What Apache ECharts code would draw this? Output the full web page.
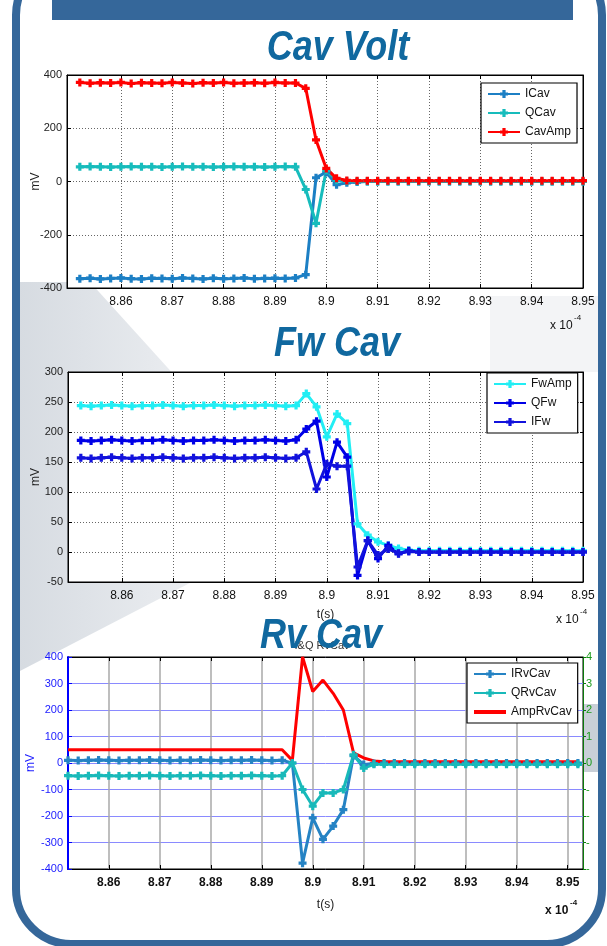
<!DOCTYPE html>
<html>
<head>
<meta charset="utf-8">
<script src="https://cdn.jsdelivr.net/npm/echarts@6/dist/echarts.min.js"></script>
<style>
html,body{margin:0;padding:0;background:#fff}
#main{width:607px;height:946px}
</style>
</head>
<body>
<div id="main"></div>
<script>
// time axis, units of 1e-4 s
var t = [8.852,8.854,8.856,8.858,8.860,8.862,8.864,8.866,8.868,8.870,
         8.872,8.874,8.876,8.878,8.880,8.882,8.884,8.886,8.888,8.890,
         8.892,8.894,8.896,8.898,8.900,8.902,8.904,8.906,8.908,8.910,
         8.912,8.914,8.916,8.918,8.920,8.922,8.924,8.926,8.928,8.930,
         8.932,8.934,8.936,8.938,8.940,8.942,8.944,8.946,8.948,8.950,8.952];
var xTicks = [8.86,8.87,8.88,8.89,8.9,8.91,8.92,8.93,8.94,8.95];

// Cav Volt (mV)
var iCav = [-365,-363,-366,-364,-362,-365,-366,-363,-364,-365,-362,-364,-366,-363,-365,-364,-362,-365,-364,-363,-364,-362,
            -350,14,35,-12,-5,-2,
            0,0,0,0,0,0,0,0,0,0,0,0,0,0,0,0,0,0,0,0,0,0,0];
var qCav = [55,56,55,54,55,56,55,55,54,55,56,55,55,54,55,56,55,55,54,55,56,55,
            -30,-157,42,5,1,
            0,0,0,0,0,0,0,0,0,0,0,0,0,0,0,0,0,0,0,0,0,0,0,0];
var cavAmp = [372,369,371,370,372,368,371,370,369,372,370,368,371,370,372,369,370,371,369,372,370,370,
              350,156,49,12,4,
              3,3,3,3,3,3,3,3,3,3,3,3,3,3,3,3,3,3,3,3,3,3,3,3];

// Fw Cav (mV)
var fwAmp = [244,243,244,245,244,243,244,244,245,244,243,244,244,245,244,243,244,244,245,244,243,244,
             264,242,192,230,214,47,28,17,11,6,3,
             2,2,2,2,2,2,2,2,2,2,2,2,2,2,2,2,2,2];
var qFw = [186,185,186,187,186,185,186,186,187,186,185,186,186,187,186,185,186,186,187,186,185,187,
           205,218,125,183,158,-39,19,-11,11,-3,2,
           0,0,0,0,0,0,0,0,0,0,0,0,0,0,0,0,0,0];
var iFw = [157,156,157,158,157,156,157,157,158,157,156,157,157,158,157,156,157,157,158,157,156,157,
           167,105,147,143,143,-25,19,-5,5,-2,1,
           0,0,0,0,0,0,0,0,0,0,0,0,0,0,0,0,0,0];

// Rv Cav (mV)
var iRv = [10,9,10,11,10,9,10,10,11,10,9,10,10,11,10,9,10,10,11,10,9,10,
           0,-378,-207,-288,-238,-176,28,-6,-2,
           0,0,0,0,0,0,0,0,0,0,0,0,0,0,0,0,0,0,0,0];
var qRv = [-48,-49,-48,-47,-48,-49,-48,-48,-47,-48,-49,-48,-48,-47,-48,-49,-48,-48,-47,-48,-49,-48,
           0,-100,-163,-113,-113,-100,31,-19,-5,
           -5,-5,-5,-5,-5,-5,-5,-5,-5,-5,-5,-5,-5,-5,-5,-5,-5,-5,-5,-5];
var ampRv = [50,50,50,50,50,50,50,50,50,50,50,50,50,50,50,50,50,50,50,50,50,50,
             10,400,270,313,263,200,38,19,8,
             5,5,5,5,5,5,5,5,5,5,5,5,5,5,5,5,5,5,5,5];

var FONT = '"Liberation Sans", Arial, sans-serif';
var PLUS = 'path://M3,0L7,0L7,3L10,3L10,7L7,7L7,10L3,10L3,7L0,7L0,3L3,3Z';
var BAR = 'path://M0,0L32,0L32,4L0,4Z';
var FRAME = '#35679a';
var TITLE = '#10689f';

function pts(v){
    return t.map(function(x,i){ return [x, v[i]]; });
}
function fmtX(v){ return String(parseFloat(v.toFixed(2))); }

function line(name, vals, color, xi, yi, marker){
    return {
        name: name, type: 'line', xAxisIndex: xi, yAxisIndex: yi,
        data: pts(vals),
        symbol: marker ? PLUS : 'none',
        symbolSize: 8,
        showSymbol: !!marker,
        itemStyle: {color: color},
        lineStyle: {color: color, width: 3},
        animation: false
    };
}

function bottomX(gi, min, max, bold, name, gap){
    return {
        type: 'value', gridIndex: gi, min: min, max: max, position: 'bottom',
        name: name || '', nameLocation: 'middle', nameGap: gap || 28, nameMoveOverlap: false,
        nameTextStyle: {color: '#222', fontSize: 12, fontFamily: FONT},
        axisLine: {show: true, onZero: false, lineStyle: {color: '#000', width: 1}},
        axisTick: {show: true, inside: true, length: 4, customValues: xTicks, lineStyle: {color: '#000'}},
        axisLabel: {customValues: xTicks, formatter: fmtX, color: '#111', fontSize: 12,
                    fontWeight: bold ? 'bold' : 'normal', fontFamily: FONT, margin: 8},
        splitLine: {show: true, lineStyle: bold ? {color: '#a8a8a8', width: 1.5, type: 'solid'}
                                                : {color: '#666', width: 1, type: [1, 2]}}
    };
}
function topX(gi, min, max){
    return {
        type: 'value', gridIndex: gi, min: min, max: max, position: 'top',
        axisLine: {show: true, onZero: false, lineStyle: {color: '#000', width: 1}},
        axisTick: {show: true, inside: true, length: 4, customValues: xTicks, lineStyle: {color: '#000'}},
        axisLabel: {show: false}, splitLine: {show: false}
    };
}
function leftY(gi, min, max, step, color, lblColor, split, gap){
    return {
        type: 'value', gridIndex: gi, min: min, max: max, interval: step, position: 'left',
        name: 'mV', nameLocation: 'middle', nameGap: gap, nameMoveOverlap: false,
        nameTextStyle: {color: lblColor, fontSize: 12, fontFamily: FONT},
        axisLine: {show: true, onZero: false, lineStyle: {color: color, width: color === '#000' ? 1 : 2}},
        axisTick: {show: true, inside: true, length: 4, lineStyle: {color: color}},
        axisLabel: {color: lblColor, fontSize: 11, fontFamily: FONT, margin: 5},
        splitLine: {show: true, lineStyle: split}
    };
}
function rightY(gi, min, max, step, color, labels){
    return {
        type: 'value', gridIndex: gi, min: min, max: max, interval: step, position: 'right',
        axisLine: {show: true, onZero: false, lineStyle: {color: color, width: 1}},
        axisTick: {show: true, inside: !labels, length: 3, lineStyle: {color: color}},
        axisLabel: labels ? {show: true, color: '#1a9a1a', fontSize: 11, fontFamily: FONT, margin: 3,
                             formatter: function(v){ return String(v).charAt(0); }}
                          : {show: false},
        splitLine: {show: false}
    };
}
function legendAt(left, top, names){
    return {
        data: names, orient: 'vertical', left: left, top: top,
        backgroundColor: '#fff', borderColor: '#000', borderWidth: 1.2,
        padding: [5, 6, 5, 6], itemGap: 7, itemWidth: 32, itemHeight: 10,
        textStyle: {color: '#111', fontSize: 12, fontFamily: FONT},
        selectedMode: false
    };
}
function title(x, y, text){
    return {type: 'text', x: x, y: y, scaleY: 1.18, z: 100,
            style: {text: text, fill: TITLE, font: 'italic bold 36px ' + FONT,
                    textAlign: 'center', textVerticalAlign: 'middle'}};
}
function scale10(x, y, bold){
    var w = bold ? 'bold ' : '';
    return [
        {type: 'text', x: x, y: y, z: 60,
         style: {text: 'x 10', fill: '#111', font: w + '12px ' + FONT, textVerticalAlign: 'middle'}},
        {type: 'text', x: x + (bold ? 25 : 24), y: y - 8, z: 60,
         style: {text: '-4', fill: '#111', font: w + '8px ' + FONT, textVerticalAlign: 'middle'}}
    ];
}

var chart = echarts.init(document.getElementById('main'), null, {renderer: 'canvas'});

var graphics = [
    // decorative background shading
    {type: 'polygon', z: -10, silent: true,
     shape: {points: [[18,282],[90,282],[215,420],[215,570],[18,672]]},
     style: {fill: new echarts.graphic.LinearGradient(0, 0, 1, 0,
            [{offset: 0, color: '#d6dbe1'}, {offset: 1, color: '#eef0f3'}])}},
    {type: 'rect', z: -9, silent: true, shape: {x: 490, y: 296, width: 112, height: 76}, style: {fill: '#f3f4f6'}},
    {type: 'rect', z: -8, silent: true, shape: {x: 178, y: 306, width: 312, height: 66}, style: {fill: '#ffffff'}},
    {type: 'rect', z: -9, silent: true, shape: {x: 584, y: 704, width: 18, height: 68}, style: {fill: '#c9cfd7'}},
    // frame
    {type: 'rect', z: 50, silent: true, shape: {x: 52, y: 0, width: 521, height: 20}, style: {fill: FRAME}},
    {type: 'rect', z: 50, silent: true, shape: {x: 16, y: -40, width: 586, height: 984, r: 55},
     style: {fill: null, stroke: FRAME, lineWidth: 8}},
    // subtitle mostly hidden under the Rv Cav title
    {type: 'text', x: 322, y: 646, z: 5,
     style: {text: 'I&Q RvCav', fill: '#333', font: '11px ' + FONT, textAlign: 'center', textVerticalAlign: 'middle'}},
    title(338, 48, 'Cav Volt'),
    title(337, 344, 'Fw Cav'),
    title(321, 636, 'Rv Cav')
].concat(scale10(550, 326, false), scale10(556, 620, false), scale10(545, 911, true));

var option = {
    backgroundColor: '#ffffff',
    animation: false,
    textStyle: {fontFamily: FONT},
    grid: [
        {left: 67, top: 75, width: 516, height: 213, show: true, backgroundColor: '#fff', borderColor: '#000', borderWidth: 1},
        {left: 68, top: 372, width: 515, height: 210, show: true, backgroundColor: '#fff', borderColor: '#000', borderWidth: 1},
        {left: 68, top: 657, width: 515, height: 212, show: true, backgroundColor: '#fff', borderColor: '#000', borderWidth: 1}
    ],
    xAxis: [
        bottomX(0, 8.8495, 8.95, false),
        bottomX(1, 8.8495, 8.95, false, 't(s)', 27),
        bottomX(2, 8.852, 8.953, true, 't(s)', 30),
        topX(0, 8.8495, 8.95),
        topX(1, 8.8495, 8.95),
        topX(2, 8.852, 8.953)
    ],
    yAxis: [
        leftY(0, -400, 400, 200, '#000', '#222', {color: '#666', width: 1, type: [1, 2]}, 25),
        leftY(1, -50, 300, 50, '#000', '#222', {color: '#666', width: 1, type: [1, 2]}, 26),
        leftY(2, -400, 400, 100, '#0000ff', '#1a1aff', {color: '#8a8aff', width: 1, type: 'solid'}, 31),
        rightY(0, -400, 400, 200, '#000', false),
        rightY(1, -50, 300, 50, '#000', false),
        rightY(2, -400, 400, 100, '#0a7a0a', true)
    ],
    legend: [
        legendAt(481, 83, ['ICav', 'QCav', 'CavAmp']),
        legendAt(487, 373, ['FwAmp', 'QFw', 'IFw']),
        legendAt(467, 663, ['IRvCav', 'QRvCav', {name: 'AmpRvCav', icon: BAR}])
    ],
    series: [
        line('ICav', iCav, '#1c7fc4', 0, 0, true),
        line('QCav', qCav, '#17bcbc', 0, 0, true),
        line('CavAmp', cavAmp, '#ff0000', 0, 0, true),
        line('FwAmp', fwAmp, '#22eef4', 1, 1, true),
        line('QFw', qFw, '#0000e6', 1, 1, true),
        line('IFw', iFw, '#1212dc', 1, 1, true),
        line('IRvCav', iRv, '#2583c4', 2, 2, true),
        line('QRvCav', qRv, '#18b9b9', 2, 2, true),
        line('AmpRvCav', ampRv, '#ff0000', 2, 2, false)
    ],
    graphic: graphics
};
chart.setOption(option);
</script>
</body>
</html>
